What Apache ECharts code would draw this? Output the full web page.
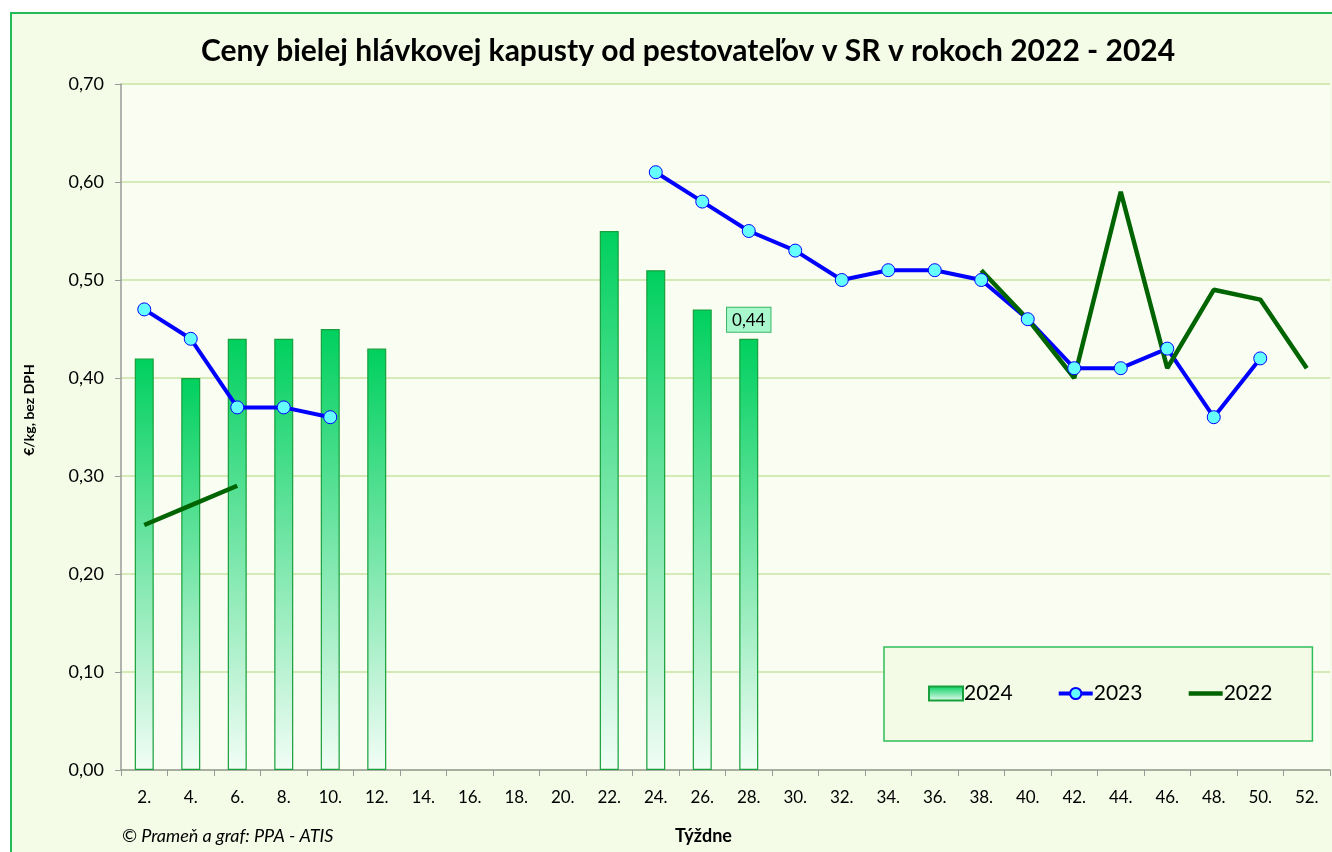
<!DOCTYPE html>
<html>
<head>
<meta charset="utf-8">
<script src="https://cdn.jsdelivr.net/npm/echarts@6/dist/echarts.min.js"></script>
<style>html,body{margin:0;padding:0;background:#fff}#c{width:1332px;height:852px}</style>
</head>
<body>
<div id="c"></div>
<script>
const weeks = ['2.','4.','6.','8.','10.','12.','14.','16.','18.','20.','22.','24.','26.','28.','30.','32.','34.','36.','38.','40.','42.','44.','46.','48.','50.','52.'];
const y2024 = [0.42,0.40,0.44,0.44,0.45,0.43,null,null,null,null,0.55,0.51,0.47,0.44,null,null,null,null,null,null,null,null,null,null,null,null];
const y2023 = [0.47,0.44,0.37,0.37,0.36,null,null,null,null,null,null,0.61,0.58,0.55,0.53,0.50,0.51,0.51,0.50,0.46,0.41,0.41,0.43,0.36,0.42,null];
const y2022 = [0.25,0.27,0.29,null,null,null,null,null,null,null,null,null,null,null,null,null,null,null,0.51,0.46,0.40,0.59,0.41,0.49,0.48,0.41];
const yTicks = [0,0.1,0.2,0.3,0.4,0.5,0.6,0.7];
const labelledIndex = 13;

const FONT = 'Lato, "Noto Sans", sans-serif';
const chart = echarts.init(document.getElementById('c'), null, {renderer:'canvas'});
const barGrad = new echarts.graphic.LinearGradient(0,0,0,1,[{offset:0,color:'#00d05e'},{offset:1,color:'#f2fdf6'}]);
chart.setOption({
  backgroundColor:'#ffffff',
  animation:false,
  graphic:[{type:'rect',z:-10,shape:{x:11,y:13,width:1340,height:860},style:{fill:'#f4fbe7',stroke:'#22bb55',lineWidth:2}}],
  title:[
    {text:'Ceny bielej hlávkovej kapusty od pestovateľov v SR v rokoch 2022 - 2024',left:196,top:31,
     textStyle:{fontFamily:FONT,fontWeight:'bold',fontSize:30,color:'#000'}},
    {text:'© Prameň a graf: PPA - ATIS',left:117,top:822,
     textStyle:{fontFamily:FONT,fontStyle:'italic',fontWeight:'normal',fontSize:18,color:'#000'}},
    {text:'Týždne',left:670,top:822,
     textStyle:{fontFamily:FONT,fontWeight:'bold',fontSize:18,color:'#000'}}
  ],
  grid:{left:121,right:2,top:84,bottom:82,show:true,backgroundColor:'#fafdf1',borderWidth:0},
  legend:{
    left:884,top:647,width:428,
    padding:[36,40,37,44],
    backgroundColor:'#f3fbe6',borderColor:'#2fbf5a',borderWidth:1.5,
    itemGap:44,itemWidth:34,itemHeight:14,
    lineStyle:{width:4},
    textStyle:{fontFamily:FONT,fontSize:21,color:'#000',padding:[0,0,0,-4]},
    data:[{name:'2024',icon:'rect'},{name:'2023',lineStyle:{width:4}},{name:'2022',itemStyle:{opacity:0},lineStyle:{width:4.5}}]
  },
  xAxis:{
    type:'category',data:weeks,boundaryGap:true,
    axisLine:{lineStyle:{color:'#9a9a9a',width:1.5}},
    axisTick:{show:true,alignWithLabel:false,length:6,lineStyle:{color:'#9a9a9a'}},
    axisLabel:{fontFamily:FONT,fontSize:17,color:'#000',margin:19,interval:0},
    splitLine:{show:false}
  },
  yAxis:{
    type:'value',min:0,max:0.7,interval:0.1,
    name:'€/kg, bez DPH',nameLocation:'middle',nameGap:85,
    nameTextStyle:{fontFamily:FONT,fontWeight:'bold',fontSize:14,color:'#000',padding:[0,0,0,34]},
    axisLine:{show:true,lineStyle:{color:'#9a9a9a',width:1.5}},
    axisTick:{show:true,length:6,lineStyle:{color:'#9a9a9a'}},
    axisLabel:{fontFamily:FONT,fontSize:18,color:'#000',margin:17,
      formatter:v=>v.toFixed(2).replace('.',',')},
    splitLine:{lineStyle:{color:'#c8e4a2',width:1.5}}
  },
  series:[
    {name:'2024',type:'bar',barWidth:19,
     itemStyle:{color:barGrad,borderColor:'#18a03c',borderWidth:1.2},
     data:y2024.map((v,i)=> i===labelledIndex ? {value:v,label:{show:true}} : v),
     label:{show:false,position:'top',distance:7,fontFamily:FONT,fontSize:17,color:'#000',
       backgroundColor:'#a8f7cd',borderColor:'#3ab665',borderWidth:1,padding:[4,5,3,5],
       formatter:p=>p.value.toFixed(2).replace('.',',')}
    },
    {name:'2023',type:'line',connectNulls:false,
     lineStyle:{color:'#0000ff',width:4},
     symbol:'circle',symbolSize:13,
     itemStyle:{color:'#66ffff',borderColor:'#0000ff',borderWidth:1},
     data:y2023},
    {name:'2022',type:'line',connectNulls:false,showSymbol:false,symbol:'none',
     lineStyle:{color:'#006400',width:4.5},itemStyle:{color:'#006400'},
     data:y2022}
  ]
});
</script>
</body>
</html>
